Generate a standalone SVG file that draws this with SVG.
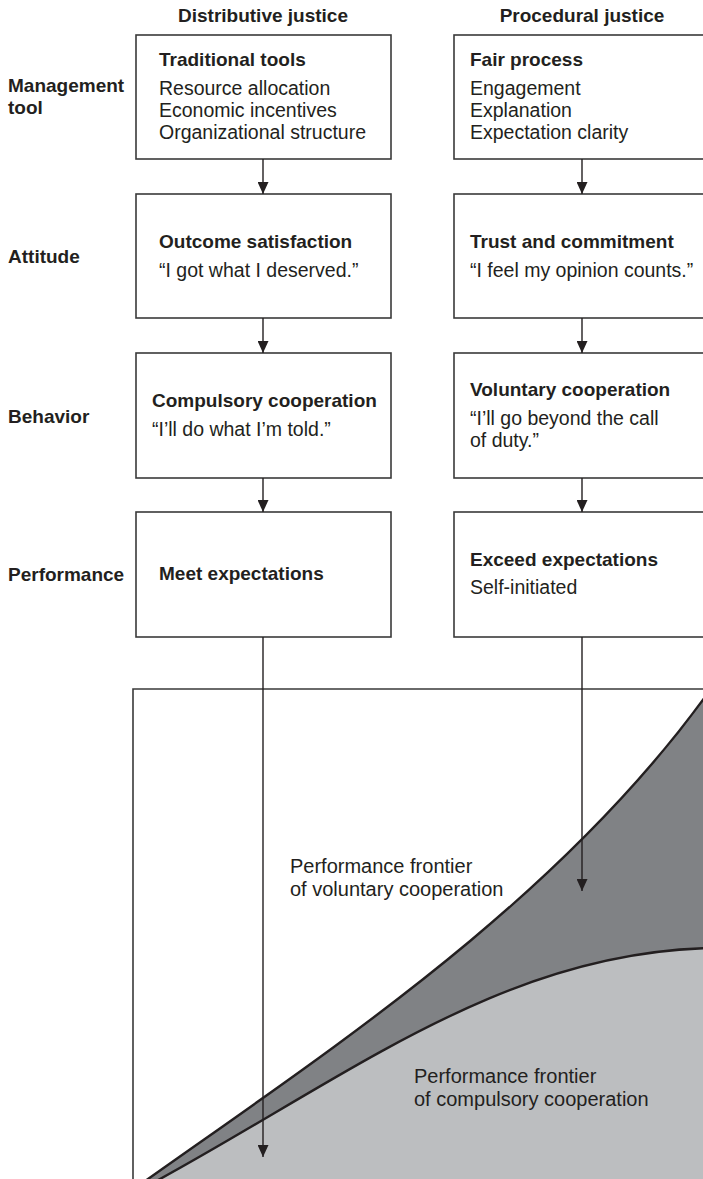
<svg xmlns="http://www.w3.org/2000/svg" width="703" height="1179" viewBox="0 0 703 1179">
<style>
  text { font-family: "Liberation Sans", Arial, sans-serif; fill: #231f20; }
  .hd { font-size: 19px; font-weight: bold; }
  .row { font-size: 19px; font-weight: bold; }
  .t { font-size: 19px; font-weight: bold; }
  .b { font-size: 19.5px; }
  .lbl { font-size: 20px; }
  .box { fill: #ffffff; stroke: #3a3a3a; stroke-width: 1.6; }
  .conn { stroke: #231f20; stroke-width: 1.4; fill: none; }
  .curve { fill: none; stroke: #231f20; stroke-width: 2.4; }
</style>
<defs>
  <marker id="ah" viewBox="0 0 12 11" refX="12" refY="5.5" markerWidth="12" markerHeight="11" markerUnits="userSpaceOnUse" orient="auto">
    <path d="M0,0 L12,5.5 L0,11 Z" fill="#231f20"/>
  </marker>
</defs>
<rect x="0" y="0" width="703" height="1179" fill="#ffffff"/>

<g id="chart">
  <path d="M148,1179 C330,1050 560,900 710,690 L720,690 L720,1190 L140,1190 Z" fill="#808285"/>
  <path d="M160,1179 C350,1075 510,948 720,948 L720,1190 L150,1190 Z" fill="#bcbec0"/>
  <path class="curve" d="M139,1185.3 L148,1179 C330,1050 560,900 710,690"/>
  <path class="curve" d="M149,1185 L160,1179 C350,1075 510,948 720,948"/>
  <path d="M133,1190 V689 H715" fill="none" stroke="#3a3a3a" stroke-width="1.6"/>
  <text class="lbl" x="290" y="873">Performance frontier</text>
  <text class="lbl" x="290" y="896">of voluntary cooperation</text>
  <text class="lbl" x="414" y="1083">Performance frontier</text>
  <text class="lbl" x="414" y="1106">of compulsory cooperation</text>
</g>

<g id="headers">
  <text class="hd" x="263" y="22" text-anchor="middle">Distributive justice</text>
  <text class="hd" x="582" y="22" text-anchor="middle">Procedural justice</text>
</g>

<g id="row-labels">
  <text class="row" x="8" y="92">Management</text>
  <text class="row" x="8" y="114">tool</text>
  <text class="row" x="8" y="263">Attitude</text>
  <text class="row" x="8" y="423">Behavior</text>
  <text class="row" x="8" y="581">Performance</text>
</g>

<g id="traditional-tools">
  <rect class="box" x="136" y="35" width="255" height="124"/>
  <text class="t" x="159" y="65.5">Traditional tools</text>
  <text class="b" x="159" y="95">Resource allocation</text>
  <text class="b" x="159" y="117">Economic incentives</text>
  <text class="b" x="159" y="139">Organizational structure</text>
</g>

<g id="fair-process">
  <rect class="box" x="454" y="35" width="260" height="124"/>
  <text class="t" x="470" y="65.5">Fair process</text>
  <text class="b" x="470" y="95">Engagement</text>
  <text class="b" x="470" y="117">Explanation</text>
  <text class="b" x="470" y="139">Expectation clarity</text>
</g>

<g id="outcome-satisfaction">
  <rect class="box" x="136" y="194" width="255" height="124"/>
  <text class="t" x="159" y="248">Outcome satisfaction</text>
  <text class="b" x="159" y="277">“I got what I deserved.”</text>
</g>

<g id="trust-commitment">
  <rect class="box" x="454" y="194" width="260" height="124"/>
  <text class="t" x="470" y="248">Trust and commitment</text>
  <text class="b" x="470" y="277">“I feel my opinion counts.”</text>
</g>

<g id="compulsory-cooperation">
  <rect class="box" x="136" y="353" width="255" height="125"/>
  <text class="t" x="152" y="407">Compulsory cooperation</text>
  <text class="b" x="152" y="436">“I’ll do what I’m told.”</text>
</g>

<g id="voluntary-cooperation">
  <rect class="box" x="454" y="353" width="260" height="125"/>
  <text class="t" x="470" y="396">Voluntary cooperation</text>
  <text class="b" x="470" y="425">“I’ll go beyond the call</text>
  <text class="b" x="470" y="447">of duty.”</text>
</g>

<g id="meet-expectations">
  <rect class="box" x="136" y="512" width="255" height="125"/>
  <text class="t" x="159" y="580">Meet expectations</text>
</g>

<g id="exceed-expectations">
  <rect class="box" x="454" y="512" width="260" height="125"/>
  <text class="t" x="470" y="566">Exceed expectations</text>
  <text class="b" x="470" y="594">Self-initiated</text>
</g>

<g id="connectors">
  <line class="conn" x1="263" y1="159" x2="263" y2="194" marker-end="url(#ah)"/>
  <line class="conn" x1="263" y1="318" x2="263" y2="353" marker-end="url(#ah)"/>
  <line class="conn" x1="263" y1="478" x2="263" y2="512" marker-end="url(#ah)"/>
  <line class="conn" x1="263" y1="637" x2="263" y2="1157" marker-end="url(#ah)"/>
  <line class="conn" x1="582" y1="159" x2="582" y2="194" marker-end="url(#ah)"/>
  <line class="conn" x1="582" y1="318" x2="582" y2="353" marker-end="url(#ah)"/>
  <line class="conn" x1="582" y1="478" x2="582" y2="512" marker-end="url(#ah)"/>
  <line class="conn" x1="582" y1="637" x2="582" y2="891" marker-end="url(#ah)"/>
</g>
</svg>
